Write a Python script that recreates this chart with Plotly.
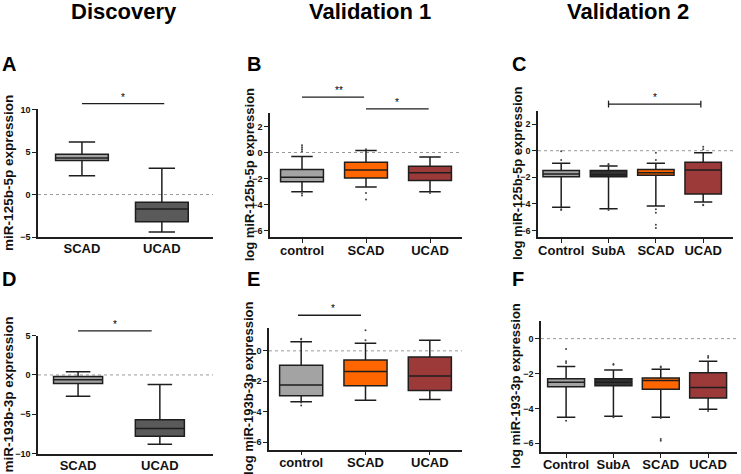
import plotly.graph_objects as go

W, H = 741, 474
FONT = "Arial, 'Liberation Sans', Helvetica, sans-serif"
INK = "#1e1e1e"
GREY = "#a3a3a3"
DGREY = "#5a5a5a"
SUBA = "#333333"
ORANGE = "#ff6600"
RED = "#9c3a3a"

# ---------------- data ----------------
# A: Discovery miR-125b-5p
A_cats = ["SCAD", "UCAD"]
A_q1 = [4.0, -3.2]
A_med = [4.3, -1.7]
A_q3 = [4.75, -0.9]
A_lo = [2.2, -4.4]
A_hi = [6.2, 3.1]

# B: Validation 1 miR-125b-5p
B_cats = ["control", "SCAD", "UCAD"]
B_q1 = [-2.25, -1.95, -2.15]
B_med = [-1.9, -1.35, -1.55]
B_q3 = [-1.3, -0.75, -1.05]
B_lo = [-3.0, -2.65, -3.0]
B_hi = [-0.3, 0.15, -0.35]
B_out = [[0.55, 0.4, 0.25, 0.1, -3.15, -3.3], [0.25, -3.1, -3.6], [-3.1]]

# C: Validation 2 miR-125b-5p
C_cats = ["Control", "SubA", "SCAD", "UCAD"]
C_q1 = [-1.95, -1.95, -1.85, -3.25]
C_med = [-1.75, -1.8, -1.65, -1.45]
C_q3 = [-1.48, -1.48, -1.42, -0.87]
C_lo = [-4.25, -4.35, -4.15, -3.85]
C_hi = [-0.95, -1.15, -0.95, -0.15]
C_out = [[-0.05, -0.7, -4.4, -4.45], [-1.0, -1.05, -4.45], [-0.15, -0.7, -4.4, -4.65, -5.55, -5.8], [0.3, 0.1, -4.05, -4.1]]

# D: Discovery miR-193b-3p
D_cats = ["SCAD", "UCAD"]
D_q1 = [-1.1, -7.8]
D_med = [-0.6, -6.8]
D_q3 = [-0.2, -5.7]
D_lo = [-2.7, -8.8]
D_hi = [0.4, -1.2]

# E: Validation 1 miR-193b-3p
E_cats = ["control", "SCAD", "UCAD"]
E_q1 = [-2.95, -2.3, -2.6]
E_med = [-2.25, -1.35, -1.65]
E_q3 = [-0.95, -0.6, -0.4]
E_lo = [-3.35, -3.25, -3.2]
E_hi = [0.6, 0.5, 0.7]
E_out = [[0.8, 0.75, -3.4, -3.6], [1.35, 0.7], []]

# F: Validation 2 miR-193-3p
F_cats = ["Control", "SubA", "SCAD", "UCAD"]
F_q1 = [-2.75, -2.7, -2.9, -3.4]
F_med = [-2.5, -2.5, -2.4, -2.8]
F_q3 = [-2.3, -2.3, -2.25, -1.95]
F_lo = [-4.5, -4.45, -4.5, -4.05]
F_hi = [-1.6, -1.8, -1.75, -1.3]
F_out = [[-0.6, -1.3, -1.4, -4.7], [-1.45, -1.5, -4.5], [-1.6, -1.65, -4.55, -5.75, -5.85], [-1.0, -1.1, -4.15]]

panels = [
    dict(cats=A_cats, q1=A_q1, med=A_med, q3=A_q3, lo=A_lo, hi=A_hi, out=None,
         colors=[GREY, DGREY], xdom=(38, 213), ydom=(237, 106), xr=(-0.55, 1.64), yr=(-5, 10.1),
         yt=[-5, 0, 5, 10], bw=0.66, title="miR-125b-5p expression", tsz=13.5, tx=9, letter="A", lx=0, ly=60,
         xticks=False, sig=[(0, 1.03, 10.7, "*", False)]),
    dict(cats=B_cats, q1=B_q1, med=B_med, q3=B_q3, lo=B_lo, hi=B_hi, out=B_out,
         colors=[GREY, ORANGE, RED], xdom=(270, 462), ydom=(237.3, 110.7), xr=(-0.5, 2.5), yr=(-6.5, 3),
         yt=[-6, -4, -2, 0, 2], bw=0.67, title="log miR-125b-5p expression", tsz=13, tx=249, letter="B", lx=245, ly=60,
         xticks=True, sig=[(0, 0.97, 4.25, "**", False), (1.0, 1.98, 3.35, "*", False)]),
    dict(cats=C_cats, q1=C_q1, med=C_med, q3=C_q3, lo=C_lo, hi=C_hi, out=C_out,
         colors=[GREY, SUBA, ORANGE, RED], xdom=(538, 733), ydom=(237.3, 108), xr=(-0.49, 3.63), yr=(-6.5, 3),
         yt=[-6, -4, -2, 0, 2], bw=0.77, title="log miR-125b-5p expression", tsz=13, tx=517, letter="C", lx=510, ly=60,
         xticks=True, sig=[(1, 2.95, 3.5, "*", True)]),
    dict(cats=D_cats, q1=D_q1, med=D_med, q3=D_q3, lo=D_lo, hi=D_hi, out=None,
         colors=[GREY, DGREY], xdom=(38, 213), ydom=(458.3, 337.7), xr=(-0.49, 1.65), yr=(-10, 5),
         yt=[-10, -5, 0, 5], bw=0.6, title="miR-193b-3p expression", tsz=13.5, tx=9, letter="D", lx=0, ly=280,
         xticks=False, sig=[(0, 0.9, 5.6, "*", False)]),
    dict(cats=E_cats, q1=E_q1, med=E_med, q3=E_q3, lo=E_lo, hi=E_hi, out=E_out,
         colors=[GREY, ORANGE, RED], xdom=(269, 462), ydom=(454.3, 330), xr=(-0.5, 2.5), yr=(-6.5, 1.5),
         yt=[-6, -4, -2, 0], bw=0.67, title="log miR-193b-3p expression", tsz=13, tx=249, letter="E", lx=245, ly=280,
         xticks=True, sig=[(-0.05, 0.93, 2.34, "*", False)]),
    dict(cats=F_cats, q1=F_q1, med=F_med, q3=F_q3, lo=F_lo, hi=F_hi, out=F_out,
         colors=[GREY, SUBA, ORANGE, RED], xdom=(541, 737), ydom=(456.7, 323), xr=(-0.53, 3.61), yr=(-6.5, 1),
         yt=[-6, -4, -2, 0], bw=0.78, title="log miR-193-3p expression", tsz=13, tx=516, letter="F", lx=510, ly=280,
         xticks=True, sig=[]),
]

fig = go.Figure()
shapes = []
annotations = []
layout_axes = {}

for i, p in enumerate(panels, start=1):
    sfx = "" if i == 1 else str(i)
    xa, ya = "x" + sfx, "y" + sfx
    n = len(p["cats"])
    pos = list(range(n))
    for k in range(n):
        fig.add_trace(go.Box(
            x=[pos[k]], q1=[p["q1"][k]], median=[p["med"][k]], q3=[p["q3"][k]],
            lowerfence=[p["lo"][k]], upperfence=[p["hi"][k]],
            width=p["bw"], whiskerwidth=0.5, fillcolor=p["colors"][k],
            line=dict(color=INK, width=1.5), boxpoints=False,
            xaxis=xa, yaxis=ya, showlegend=False, hoverinfo="skip",
        ))
        if p["out"] and p["out"][k]:
            fig.add_trace(go.Scatter(
                x=[pos[k]] * len(p["out"][k]), y=p["out"][k], mode="markers",
                marker=dict(size=2, color="#444444"), cliponaxis=False,
                xaxis=xa, yaxis=ya, showlegend=False, hoverinfo="skip",
            ))
    x0p, x1p = p["xdom"]
    yb, yt = p["ydom"]
    layout_axes["xaxis" + sfx] = dict(
        domain=[x0p / W, x1p / W], range=list(p["xr"]), anchor=ya,
        tickvals=pos, ticktext=p["cats"], showgrid=False, zeroline=False,
        showline=True, linecolor=INK, linewidth=1.5,
        ticks="outside" if p["xticks"] else "", ticklen=4, tickwidth=1.2, tickcolor=INK,
        ticklabelstandoff=-4 if p["xticks"] else -1,
        tickfont=dict(family=FONT, size=13, color="#111", weight="bold"), fixedrange=True,
    )
    layout_axes["yaxis" + sfx] = dict(
        domain=[1 - yb / H, 1 - yt / H], range=list(p["yr"]), anchor=xa,
        tickvals=p["yt"], showgrid=False, zeroline=False,
        showline=True, linecolor=INK, linewidth=1.5,
        ticks="outside", ticklen=4, tickwidth=1.2, tickcolor=INK,
        tickfont=dict(family=FONT, size=9, color="#111", weight="bold"), fixedrange=True,
    )
    # dotted zero reference line
    shapes.append(dict(type="line", xref=xa + " domain", x0=0, x1=1, yref=ya, y0=0, y1=0,
                       line=dict(color="#999999", width=1, dash="dot"), layer="below"))
    # significance bars
    r0, r1 = p["xr"]
    s0, s1 = p["yr"]
    for (sx0, sx1, sy, txt, caps) in p["sig"]:
        fx0 = (sx0 - r0) / (r1 - r0)
        fx1 = (sx1 - r0) / (r1 - r0)
        fy = (sy - s0) / (s1 - s0)
        shapes.append(dict(type="line", xref=xa + " domain", yref=ya + " domain",
                           x0=fx0, x1=fx1, y0=fy, y1=fy, line=dict(color=INK, width=1.3)))
        if caps:
            d = 3.5 / ((1 - yt / H - (1 - yb / H)) * H)
            for fx in (fx0, fx1):
                shapes.append(dict(type="line", xref=xa + " domain", yref=ya + " domain",
                                   x0=fx, x1=fx, y0=fy - d, y1=fy + d, line=dict(color=INK, width=1.3)))
        annotations.append(dict(text=txt, xref=xa + " domain", yref=ya + " domain",
                                x=(fx0 + fx1) / 2, y=fy, yanchor="bottom", showarrow=False, yshift=-1,
                                font=dict(family=FONT, size=10, color="#000000")))
    # y-axis title
    annotations.append(dict(text=p["title"], xref="paper", yref="paper", x=p["tx"] / W,
                            y=1 - (yb + yt) / 2 / H, textangle=-90, showarrow=False,
                            xanchor="center", yanchor="middle",
                            font=dict(family=FONT, size=p["tsz"], color="#111", weight="bold")))
    # panel letter
    annotations.append(dict(text=p["letter"], xref="paper", yref="paper", x=p["lx"] / W,
                            y=1 - p["ly"] / H, showarrow=False, xanchor="left", yanchor="middle",
                            font=dict(family=FONT, size=20, color="#000", weight="bold")))

col_titles = ["Discovery", "Validation 1", "Validation 2"]
col_x = [124, 370, 628]
for t, cx in zip(col_titles, col_x):
    annotations.append(dict(text=t, xref="paper", yref="paper", x=cx / W, y=1 - 7 / H,
                            showarrow=False, xanchor="center", yanchor="middle",
                            font=dict(family=FONT, size=22, color="#000", weight="bold")))

fig.update_layout(
    width=W, height=H, autosize=False,
    margin=dict(l=0, r=0, t=0, b=0),
    paper_bgcolor="white", plot_bgcolor="white",
    shapes=shapes, annotations=annotations, showlegend=False,
    **layout_axes,
)

fig.write_html("out.html", config={"displayModeBar": False},
               post_script="document.body.style.margin='0';")
